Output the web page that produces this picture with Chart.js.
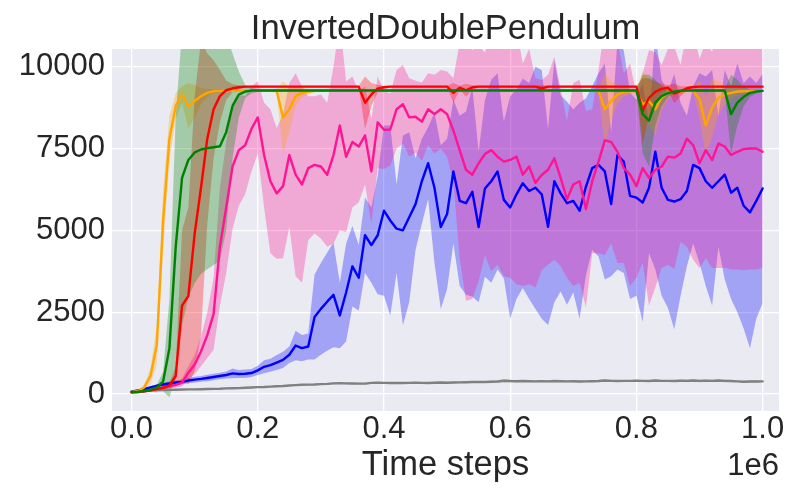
<!DOCTYPE html>
<html>
<head>
<meta charset="utf-8">
<script src="https://cdn.jsdelivr.net/npm/chart.js@4/dist/chart.umd.min.js"></script>
<style>
  html, body { margin: 0; padding: 0; background: #fff; }
</style>
</head>
<body>
<canvas id="chart" width="800" height="500"></canvas>
<script>
// ── Data (mean and std per run) ─────────────────────────────────
const steps = [
  0, 10000, 20000, 30000, 40000, 50000, 60000, 70000, 80000, 90000,
  100000, 110000, 120000, 130000, 140000, 150000, 160000, 170000, 180000, 190000,
  200000, 210000, 220000, 230000, 240000, 250000, 260000, 270000, 280000, 290000,
  300000, 310000, 320000, 330000, 340000, 350000, 360000, 370000, 380000, 390000,
  400000, 410000, 420000, 430000, 440000, 450000, 460000, 470000, 480000, 490000,
  500000, 510000, 520000, 530000, 540000, 550000, 560000, 570000, 580000, 590000,
  600000, 610000, 620000, 630000, 640000, 650000, 660000, 670000, 680000, 690000,
  700000, 710000, 720000, 730000, 740000, 750000, 760000, 770000, 780000, 790000,
  800000, 810000, 820000, 830000, 840000, 850000, 860000, 870000, 880000, 890000,
  900000, 910000, 920000, 930000, 940000, 950000, 960000, 970000, 980000, 990000,
  1000000
];

const xTicks = [0, 200000, 400000, 600000, 800000, 1000000];
const yTicks = [0, 2500, 5000, 7500, 10000];

const grayMean = [
  70, 85, 95, 105, 110, 120, 125, 130, 135, 140,
  140, 145, 150, 155, 160, 170, 175, 180, 190, 200,
  210, 215, 225, 235, 245, 260, 270, 280, 285, 290,
  300, 310, 325, 330, 325, 320, 315, 315, 340, 345,
  340, 335, 340, 335, 340, 345, 340, 335, 345, 350,
  345, 350, 355, 360, 365, 370, 365, 375, 380, 405,
  395, 390, 395, 390, 385, 390, 385, 395, 390, 385,
  390, 380, 385, 390, 395, 410, 400, 395, 400, 400,
  405, 400, 395, 410, 400, 400, 395, 405, 400, 410,
  400, 405, 400, 410, 400, 395, 385, 375, 380, 380,
  385
];
const grayStd = [
  10, 15, 15, 20, 20, 20, 20, 20, 20, 20,
  20, 20, 20, 20, 20, 20, 20, 20, 20, 20,
  20, 20, 20, 20, 20, 20, 20, 20, 20, 20,
  25, 25, 25, 25, 25, 25, 25, 25, 25, 25,
  25, 25, 25, 25, 25, 25, 25, 25, 25, 25,
  30, 30, 30, 30, 30, 30, 30, 35, 40, 45,
  40, 35, 30, 30, 30, 30, 30, 30, 30, 30,
  30, 30, 30, 30, 35, 40, 35, 30, 30, 30,
  30, 30, 30, 35, 30, 30, 30, 35, 40, 40,
  45, 40, 35, 35, 40, 35, 30, 30, 30, 30,
  30
];

const blueMean = [
  70, 110, 150, 200, 250, 290, 320, 350, 370, 410,
  440, 460, 490, 520, 550, 580, 630, 610, 620, 640,
  720, 830, 880, 960, 1040, 1200, 1480, 1400, 1450, 2350,
  2600, 2820, 3030, 2400, 3100, 3900, 3550, 4850, 4550, 4850,
  5600, 5300, 5050, 5000, 5400, 5800, 6500, 7050, 6300, 5100,
  5500, 6800, 5900, 5830, 6180, 5100, 6280, 6500, 6800, 5930,
  5700, 6100, 6440, 6200, 6300, 6100, 5110, 6500, 6130, 5830,
  5900, 5600, 6330, 6900, 7000, 6800, 5800, 7300, 7100, 6050,
  6000, 5850, 6300, 7400, 6300, 5930, 5880, 5950, 6200, 7000,
  6900, 6500, 6300, 6500, 6700, 6150, 6300, 5750, 5550, 5900,
  6280
];
const blueStd = [
  30, 30, 30, 40, 50, 50, 60, 70, 70, 80,
  90, 90, 100, 100, 100, 110, 150, 120, 130, 120,
  140, 200, 200, 230, 250, 250, 450, 400, 400, 1300,
  1400, 1500, 1600, 1000, 1500, 1230, 1000, 1150, 1150, 1800,
  2600, 2900, 1350, 2900, 2600, 1400, 1300, 1100, 2300, 2500,
  2300, 2200, 2600, 2800, 3200, 2300, 2700, 3100, 3000, 2400,
  3400, 3200, 3200, 3300, 3700, 3800, 3000, 3700, 3000, 3100,
  2800, 3300, 2700, 2500, 2800, 3300, 2200, 3500, 3400, 3150,
  3000, 3650, 2000, 3600, 3300, 3300, 3900, 2950, 2300, 2400,
  2900, 3200, 3600, 2000, 3200, 3250, 3800, 3750, 4150, 3600,
  3500
];

const pinkMean = [
  50, 60, 80, 110, 150, 190, 230, 280, 350, 650,
  900, 1300, 1800, 2450, 4500, 5700, 6950, 7450, 7600, 8100,
  8450, 7300, 6500, 6130, 6350, 7300, 6700, 6400, 6900, 7000,
  6950, 6700, 7300, 8200, 7250, 7700, 7560, 7900, 6800, 8300,
  8070, 8080, 8700, 8850, 8450, 8470, 8320, 8700, 8550, 8700,
  8550, 8050, 7450, 6850, 6700, 7050, 7330, 7450, 7250, 7100,
  7150, 7250, 6700, 6950, 6450, 6690, 6850, 7200, 6600, 5950,
  6400, 6500, 5650, 6500, 7100, 7750, 7700, 7400, 6900, 6700,
  6350, 6900, 6600, 6850, 6950, 7250, 7220, 7350, 7800, 7600,
  7050, 7450, 7150, 7650, 7560, 7300, 7400, 7480, 7500, 7500,
  7400
];
const pinkStd = [
  10, 10, 15, 20, 30, 40, 60, 80, 120, 200,
  300, 450, 700, 1100, 1800, 2000, 1900, 1700, 1500, 1300,
  1100, 1600, 2200, 2000, 2200, 2200, 3100, 3000, 2200, 2100,
  2200, 2200, 2700, 3200, 2300, 2000, 1700, 1500, 1600, 1400,
  1200, 1100, 1200, 1200, 1200, 1100, 1200, 1100, 1200, 1200,
  1300, 1600, 3300, 4000, 3800, 3600, 3100, 3700, 3300, 3500,
  3600, 3900, 3400, 3600, 3200, 2900, 2900, 3100, 2700, 2400,
  3100, 3100, 3000, 2200, 2800, 3500, 3100, 3400, 2900, 3400,
  2800, 2900, 3900, 3600, 3100, 3300, 3400, 2700, 3300, 3500,
  3200, 3300, 3300, 3800, 3700, 3500, 3600, 3700, 3700, 3700,
  3550
];

const orangeMean = [
  60, 90, 200, 550, 1500, 5300, 7800, 8800, 9150, 8800,
  8950, 9100, 9200, 9250, 9260, 9260, 9260, 9260, 9260, 9260,
  9260, 9260, 9260, 9260, 8450, 8700, 9100, 9200, 9240, 9260,
  9260, 9260, 9260, 9260, 9260, 9260, 9260, 9260, 9260, 9260,
  9260, 9260, 9260, 9260, 9260, 9260, 9260, 9260, 9260, 9260,
  9260, 9260, 9260, 9260, 9260, 9260, 9260, 9260, 9260, 9260,
  9260, 9260, 9260, 9260, 9260, 9260, 9260, 9260, 9260, 9260,
  9260, 9260, 9260, 9260, 9260, 8700, 8950, 9150, 9230, 9250,
  9260, 8850, 8950, 8700, 9050, 9200, 9240, 9250, 9260, 9260,
  9000, 8200, 8750, 9050, 9150, 9200, 9240, 9250, 9260, 9260,
  9260
];
const orangeStd = [
  10, 20, 80, 250, 600, 900, 700, 400, 250, 700,
  500, 250, 120, 60, 40, 30, 30, 30, 30, 30,
  30, 30, 30, 60, 1100, 700, 300, 150, 80, 40,
  30, 30, 30, 30, 30, 30, 30, 30, 30, 30,
  30, 30, 30, 30, 30, 30, 30, 30, 30, 30,
  30, 30, 30, 30, 30, 30, 30, 30, 30, 30,
  30, 30, 30, 30, 30, 30, 30, 30, 30, 30,
  30, 30, 30, 30, 60, 1100, 600, 300, 150, 80,
  50, 1000, 700, 800, 400, 200, 100, 60, 40, 40,
  600, 900, 900, 500, 300, 200, 100, 60, 40, 30,
  30
];

const redMean = [
  50, 60, 80, 110, 150, 190, 260, 550, 2700, 3000,
  4900, 6300, 7800, 8700, 9100, 9280, 9340, 9370, 9390, 9390,
  9390, 9390, 9390, 9390, 9390, 9390, 9390, 9390, 9390, 9390,
  9390, 9390, 9390, 9390, 9390, 9390, 9390, 8900, 9150, 9330,
  9370, 9390, 9390, 9390, 9390, 9390, 9390, 9390, 9390, 9390,
  9390, 9200, 9360, 9280, 9370, 9390, 9390, 9390, 9390, 9390,
  9390, 9390, 9390, 9390, 9390, 9340, 9390, 9390, 9390, 9390,
  9390, 9390, 9390, 9390, 9390, 9390, 9390, 9390, 9390, 9390,
  9390, 8650, 9050, 9230, 9320, 9360, 9180, 9250, 9340, 9380,
  9390, 9390, 9390, 9390, 9390, 9390, 9390, 9390, 9390, 9390,
  9390
];
const redStd = [
  10, 10, 15, 20, 30, 40, 80, 300, 2300, 2700,
  4200, 4500, 2600, 1500, 800, 300, 120, 60, 30, 30,
  30, 30, 30, 30, 30, 30, 30, 30, 30, 30,
  30, 30, 30, 30, 30, 30, 30, 800, 350, 120,
  50, 30, 30, 30, 30, 30, 30, 30, 30, 30,
  30, 300, 60, 200, 60, 30, 30, 30, 30, 30,
  30, 30, 30, 30, 30, 100, 30, 30, 30, 30,
  30, 30, 30, 30, 30, 30, 30, 30, 30, 30,
  30, 1000, 600, 300, 150, 80, 300, 150, 60, 30,
  30, 30, 30, 30, 30, 30, 30, 30, 30, 30,
  30
];

const greenMean = [
  60, 70, 90, 130, 200, 380, 1400, 4500, 6600, 7150,
  7380, 7470, 7510, 7540, 7570, 8000, 8800, 9150, 9240, 9270,
  9270, 9270, 9270, 9270, 9270, 9270, 9270, 9270, 9270, 9270,
  9270, 9270, 9270, 9270, 9270, 9270, 9270, 9270, 9270, 9270,
  9270, 9270, 9270, 9270, 9270, 9270, 9270, 9270, 9270, 9270,
  9270, 9270, 9270, 9270, 9270, 9270, 9270, 9270, 9270, 9270,
  9270, 9270, 9270, 9270, 9270, 9270, 9270, 9270, 9270, 9270,
  9270, 9270, 9270, 9270, 9270, 9270, 9270, 9270, 9270, 9270,
  9270, 8550, 8350, 8900, 9100, 9190, 9240, 9260, 9270, 9270,
  9270, 9270, 9270, 9270, 9270, 8550, 8900, 9080, 9200, 9240,
  9260
];
const greenStd = [
  10, 10, 20, 40, 80, 300, 1500, 4000, 4500, 4200,
  4000, 3800, 3700, 3600, 3500, 3000, 1600, 700, 200, 80,
  40, 40, 40, 40, 40, 40, 40, 40, 40, 40,
  40, 40, 40, 40, 40, 40, 40, 40, 40, 40,
  40, 40, 40, 40, 40, 40, 40, 40, 40, 40,
  40, 40, 40, 40, 40, 40, 40, 40, 40, 40,
  40, 40, 40, 40, 40, 40, 40, 40, 40, 40,
  40, 40, 40, 40, 40, 40, 40, 40, 40, 40,
  40, 1200, 1400, 700, 300, 120, 60, 40, 40, 40,
  40, 40, 40, 40, 40, 1200, 700, 300, 120, 60,
  40
];

// drawing order: first entry sits at the bottom
const series = [
  { color: '#808080', mean: grayMean,   std: grayStd },
  { color: '#0000ff', mean: blueMean,   std: blueStd },
  { color: '#ff1493', mean: pinkMean,   std: pinkStd },
  { color: '#ffa500', mean: orangeMean, std: orangeStd },
  { color: '#ff0000', mean: redMean,    std: redStd },
  { color: '#008000', mean: greenMean,  std: greenStd },
];

// ── Build datasets ─────────────────────────────────────
const TEXT = '#262626';
const FAMILY = '"Liberation Sans", Arial, sans-serif';

function rgba(hex, a) {
  const n = parseInt(hex.slice(1), 16);
  return `rgba(${n >> 16}, ${(n >> 8) & 255}, ${n & 255}, ${a})`;
}

const datasets = [];
series.forEach((s, z) => {
  // band: upper edge (invisible) then lower edge filled back to it
  datasets.push({
    data: steps.map((x, i) => ({ x, y: s.mean[i] + s.std[i] })),
    borderWidth: 0, borderColor: 'transparent', pointRadius: 0, fill: false,
    order: 100 - z,
  });
  datasets.push({
    data: steps.map((x, i) => ({ x, y: s.mean[i] - s.std[i] })),
    borderWidth: 0, borderColor: 'transparent', pointRadius: 0,
    fill: '-1', backgroundColor: rgba(s.color, 0.3),
    order: 100 - z,
  });
});
series.forEach((s, z) => {
  datasets.push({
    data: steps.map((x, i) => ({ x, y: s.mean[i] })),
    borderColor: s.color, borderWidth: 2.4, pointRadius: 0, fill: false,
    order: 50 - z,
  });
});

// plot background + the offset text under the x axis
const decor = {
  id: 'decor',
  beforeDraw(chart) {
    const { ctx, chartArea: a } = chart;
    ctx.save();
    ctx.fillStyle = '#fff';
    ctx.fillRect(0, 0, chart.width, chart.height);
    ctx.fillStyle = '#eaeaf2';
    ctx.fillRect(a.left, a.top, a.right - a.left, a.bottom - a.top);
    ctx.restore();
  },
  afterDraw(chart) {
    const { ctx, chartArea: a } = chart;
    ctx.save();
    ctx.font = `31px ${FAMILY}`;
    ctx.fillStyle = TEXT;
    ctx.textAlign = 'right';
    ctx.textBaseline = 'alphabetic';
    ctx.fillText('1e6', a.right, 475);
    ctx.restore();
  },
};

const tickFont = { family: FAMILY, size: 31, lineHeight: 1 };

new Chart(document.getElementById('chart'), {
  type: 'line',
  data: { datasets },
  plugins: [decor],
  options: {
    responsive: false,
    animation: false,
    devicePixelRatio: 1,
    events: [],
    parsing: false,
    layout: { padding: { left: 0, right: 21, top: 0, bottom: 0 } },
    elements: { line: { tension: 0, borderJoinStyle: 'round', borderCapStyle: 'round' } },
    plugins: {
      legend: { display: false },
      tooltip: { enabled: false },
      title: {
        display: true,
        text: 'InvertedDoublePendulum',
        color: TEXT,
        fullSize: false,
        font: { family: FAMILY, size: 34.5, weight: 'normal', lineHeight: 1 },
        padding: { top: 12, bottom: 2.5 },
      },
    },
    scales: {
      x: {
        type: 'linear',
        min: -31000,
        max: 1026000,
        afterBuildTicks: s => { s.ticks = xTicks.map(v => ({ value: v })); },
        afterFit: s => { s.height = 89; },
        grid: { color: '#ffffff', lineWidth: 1.3, drawTicks: false },
        border: { display: false },
        ticks: {
          callback: v => (v / 1e6).toFixed(1),
          color: TEXT, font: tickFont, padding: 3,
          maxRotation: 0, autoSkip: false,
        },
        title: {
          display: true,
          text: 'Time steps',
          color: TEXT,
          font: { family: FAMILY, size: 34.5, lineHeight: 1 },
          padding: { top: 0, bottom: 17.5 },
        },
      },
      y: {
        min: -520,
        max: 10540,
        afterBuildTicks: s => { s.ticks = yTicks.map(v => ({ value: v })); },
        afterFit: s => { s.width = 112; },
        grid: { color: '#ffffff', lineWidth: 1.3, drawTicks: false },
        border: { display: false },
        ticks: {
          callback: v => String(v),
          color: TEXT, font: tickFont, padding: 7,
        },
      },
    },
  },
});
</script>
</body>
</html>
